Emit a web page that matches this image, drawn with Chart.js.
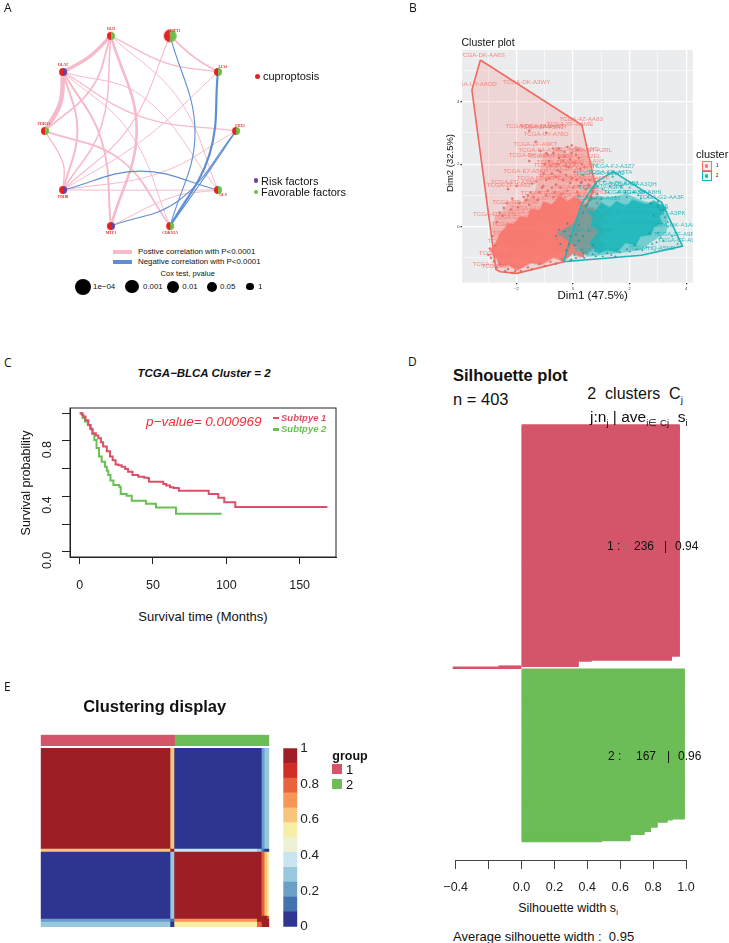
<!DOCTYPE html>
<html>
<head>
<meta charset="utf-8">
<title>Cuproptosis clusters</title>
<script src="https://cdn.jsdelivr.net/npm/chart.js@4"></script>
<style>
  html, body { margin: 0; padding: 0; background: #fff; }
  #page { position: relative; width: 729px; height: 943px; overflow: hidden; font-family: "Liberation Sans", Arial, sans-serif; color: #111; }
  #page canvas { position: absolute; }
  .t { position: absolute; white-space: pre; line-height: 1; }
  .s { position: absolute; }
  sub { font-size: 62%; line-height: 0; }
</style>
</head>
<body>
<div id="page"></div>
<script>
// ---------- panel A: correlation network ----------
const geneNames = ["DLD", "LIPT1", "LIAS", "FDX1", "GLS", "CDKN2A", "MTF1", "PDHB", "PDHA1", "DLAT"];
const geneX = [-0.31, 0.31, 0.81, 1, 0.81, 0.31, -0.31, -0.81, -1, -0.81];
const geneY = [0.995, 0.995, 0.617, 0, -0.617, -0.995, -0.995, -0.617, 0, 0.617];
const geneFactor = ["fav", "fav", "fav", "fav", "fav", "fav", "risk", "risk", "fav", "risk"];
const coxP = [1, 0.0001, 1, 1, 1, 1, 1, 1, 1, 1];

const posFrom = [0, 0, 0, 0, 0, 0, 1, 1, 9, 9, 9, 9, 9, 9, 8, 8, 7, 7, 7, 6];
const posTo = [9, 8, 7, 6, 2, 4, 2, 7, 8, 7, 6, 3, 4, 5, 7, 5, 2, 4, 3, 4];
const posMidX = [-0.53, -0.51, -0.41, -0.04, 0.27, 0.41, 0.55, -0.11, -0.84, -0.66, -0.41, 0, 0.02, -0.11, -0.81, -0.21, 0.03, 0, 0.2, 0.34];
const posMidY = [0.78, 0.45, 0.05, 0.01, 0.71, 0.32, 0.78, 0.05, 0.29, 0.01, -0.09, 0.15, 0.36, -0.02, -0.34, -0.3, -0.09, -0.62, -0.44, -0.69];
const posStrength = [3.5, 1.8, 1.5, 2.6, 1.3, 1, 1.8, 1.1, 4.5, 2, 2, 1.3, 1, 1, 1.3, 1.8, 1, 1, 1, 1];

const negFrom = [1, 2, 3, 6, 7];
const negTo = [5, 5, 5, 3, 4];
const negMidX = [0.57, 0.72, 0.66, 0.41, 0];
const negMidY = [-0.02, -0.25, -0.5, -0.72, -0.42];
const negStrength = [1.1, 2.2, 1.2, 1.1, 1.1];

// ---------- panel B: cluster plot ----------
const hull1X = [-3.28, -3.58, -2.73, -2.58, -1.99, -0.34, 0.78, 0.31, -3.28];
const hull1Y = [5.33, 4.37, -1.37, -1.44, -1.49, -1.12, 1.33, 3.25, 5.33];
const hull2X = [-0.34, 2.42, 3.87, 3.13, 1.42, 0.84, 0.31, -0.34];
const hull2Y = [-1.12, -0.91, -0.62, 0.78, 1.76, 1.44, 0.75, -1.12];

// where the samples overlap into a solid mass
const denseSalmonX = [-2.58, -2.4, -2.3, -2.1, -1.87, -1.6, -1.5, -1.17, -1.05, -0.75, -0.46, -0.2, 0.05, 0.36, 0.45, 0.72, 0.85, 1.19, 0.95, 0.95, 1.1, 0.9, 1.07, 0.7, 0.25, 0, -0.34, -0.7, -1.1, -1.5, -1.99, -2.3, -2.58, -2.7, -2.93, -2.7, -2.58];
const denseSalmonY = [-0.21, -0.05, 0.1, 0.08, 0.32, 0.28, 0.55, 0.52, 0.8, 0.7, 0.98, 0.8, 0.95, 0.78, 0.6, 0.6, 0.4, 0.43, 0.2, 0, -0.2, -0.35, -0.64, -0.7, -0.96, -0.85, -1.09, -0.98, -1.2, -1.15, -1.39, -1.2, -1.28, -1, -0.75, -0.5, -0.21];
const midSalmonX = [-2.75, -2.45, -2.2, -1.8, -1.35, -1.2, -1.05, -0.8, -0.6, -0.2, 0.1, 0.5, 0.7, 0.85, 0.95, 1.25, 1.05, 0.6, -1, -2.7, -2.9, -2.75];
const midSalmonY = [0.3, 0.55, 0.85, 0.8, 1.15, 1.6, 2.35, 2.3, 2.55, 2.35, 2.6, 2.4, 1.9, 1.3, 0.9, 0.45, -0.1, -0.5, -1, -0.6, -0.1, 0.3];
const denseTealX = [0.48, 0.75, 1, 1.3, 1.54, 1.9, 2.1, 2.6, 2.85, 3.31, 3.05, 3.1, 2.85, 2.75, 2.37, 2.2, 1.85, 1.55, 1.19, 0.9, 0.6, 0.8, 0.95, 0.65, 0.72, 0.48];
const denseTealY = [0.53, 0.45, 0.75, 0.6, 0.8, 0.65, 0.85, 0.7, 0.82, 0.59, 0.35, 0.1, 0, -0.25, -0.3, -0.6, -0.5, -0.8, -0.72, -0.85, -0.53, -0.3, -0.11, 0.05, 0.32, 0.53];
const midTealX = [0.3, 0.7, 1.42, 1.9, 2.4, 3.07, 3.35, 3.3, 3, 2.36, 1.6, 0.48, 0.2, -0.58, 0, 0.3];
const midTealY = [0.64, 0.95, 0.96, 1.05, 0.85, 0.69, 0.3, -0.2, -0.35, -0.75, -0.85, -0.96, -0.7, -0.21, 0.1, 0.64];

const salmonX = [-1.55, -0.95, -1.32, -1.55, -1.15, -0.9, -0.7, -0.5, -0.3, -0.1, 0.1, 0.3, -0.8, -0.55, -0.25, 0.05, 0.35, 0.6, -2.3, -2, -1.45, -1.3, -1.6, -1.1, -0.85, -0.6, -0.35, -0.1, 0.2, 0.45, 0.7, -1.9, -1.55, -1.25, -0.95, -0.7, -0.4, -2.7, -2.5, -2.2, -2.85, -2.75, -2.9, -2.6, -2.3, -2.05, -1.6, -1.2, -0.8, -0.4, 0.1, 0.5, 0.9, 1.15, 1.2, 1.3, 1, 0.85, 0.5, 0.2,
  -2.6, -2.45, -2.35, -2.15, -1.95, -1.75, -1.65, -1.5, -1.4, -1.2, -1.05, -0.9, -0.75, -0.65, -0.45, -0.2, 0, 0.15, 0.3, 0.55, 0.65, 0.75,
  -1.05, -0.95, -0.75, -0.6, -0.45, -0.25, -0.05, 0.12, 0.28, 0.42, 0.55, -1, -0.85, -0.55, -0.35, -0.15, 0.05, 0.25, 0.4, -0.95, -0.7, -0.5, -0.3, -0.05, 0.2,
  -2.95, -3, -2.8, -2.7, -2.4, -2.15, -1.85, -1.45, -1, -0.6, -0.1, 0.35, 0.8, 1.1, 1.25, -0.2, -0.05, 0.15];
const salmonY = [3.07, 3, 2.72, 2.1, 2.42, 2.3, 2.5, 2.2, 2.4, 2.15, 2.3, 2, 1.95, 1.8, 1.95, 1.75, 1.65, 1.5, 1.2, 1.3, 1.38, 1.45, 1, 1.25, 1.55, 1.35, 1.5, 1.4, 1.3, 1.2, 1.1, 0.75, 0.7, 0.85, 1, 0.95, 1.05, 0.15, 0.35, 0.55, -0.3, -0.6, -1, -1.2, -1.35, -1.42, -1.3, -1.2, -1.12, -1.05, -1, -0.85, -0.7, -0.35, 0.1, 0.35, 0.62, 0.75, 0.95, 1,
  0.45, 0.6, 0.75, 0.9, 0.62, 0.95, 0.85, 1.1, 0.95, 1.1, 1.3, 1.15, 1.25, 1.1, 1.25, 1.15, 1.25, 1.1, 1.42, 1.35, 0.95, 0.9,
  1.7, 1.5, 1.7, 1.6, 1.75, 1.65, 1.55, 1.5, 1.4, 1.5, 1.3, 2, 2.1, 2, 2.1, 1.9, 2.05, 1.85, 1.9, 2.35, 2.35, 2.5, 2.25, 2.35, 2.2,
  -0.7, -0.9, -1.1, -1.3, -1.42, -1.48, -1.42, -1.36, -1.25, -1.18, -1.08, -0.95, -0.78, -0.55, -0.1, 2.55, 2.6, 2.45];
const tealX = [1.4, 1.1, 0.85, 1.7, 2, 2.3, 2.65, 3, 1.25, 1.5, 1.9, 0.6, 0.45, 3.1, 3.25, 3.35, 3.5, 3.7, 3.2, 2.8, 2.45, 2, 1.5, 1.2, 0.8, 0.4, -0.05, 0.3, 0.7, 0.2, -0.3, -0.6, -0.2, 2.85, 2.7, 3, 3.15, 2.2, 1,
  0.35, 0.5, 0.65, 0.85, 1.05, 1.3, 1.6, 1.85, 2.15, 2.4, 2.75, 3, 3.2, 3.35, 3.1, 2.95, 2.6, 2.25, 1.9, 1.65, 1.35, 1.05, 0.7, 0.35, 0.05, -0.25, -0.45, -0.5, -0.15, 0.1, 0.35, 0.55, 0.2, -0.1, 0.05];
const tealY = [1.6, 1.45, 1.3, 1.3, 1.25, 1, 0.95, 0.8, 1.1, 0.95, 0.95, 0.85, 0.65, 0.55, 0.3, 0, -0.3, -0.55, -0.45, -0.55, -0.75, -0.8, -0.95, -0.85, -0.95, -1, -1.05, -0.75, -0.6, -0.45, -0.15, -0.3, 0.1, 0.35, -0.2, -0.2, 0.1, -0.6, 0.9,
  0.45, 0.7, 0.9, 1.05, 1.2, 1.3, 1.1, 1.1, 1.1, 0.9, 0.75, 0.65, 0.55, 0.15, -0.35, -0.5, -0.65, -0.72, -0.72, -0.82, -0.9, -0.95, -0.88, -0.85, -0.9, -0.75, -0.55, -0.1, -0.55, -0.25, -0.3, -0.15, 0.05, -0.3, -0.6];

const label1Text = ["TCGA-DK-AA6S", "TCGA-UY-A8OD", "TCGA-DK-A3WY", "TCGA-4Z-AA83", "TCGA-DK-A1AB", "TCGA-GU-A42R", "TCGA-XF-AAME", "TCGA-ZF-A9R1", "TCGA-UY-A78O", "TCGA-2F-A9KT", "TCGA-K4-A54R", "TCGA-DK-A3IS", "TCGA-BT-A2RL", "TCGA-DK-A1AG", "TCGA-E7-A5KF", "TCGA-FD-A3B5", "TCGA-ZF-AA53", "TCGA-FD-A5BY", "TCGA-GD-A76B", "TCGA-FD-A3SL", "TCGA-GC-A6I3", "TCGA-BT-A20N", "TCGA-DK-AA6Q", "TCGA-BL-A13J", "TCGA-G2-A2EC", "TCGA-CF-A47T", "TCGA-XF-AAN5", "TCGA-E7-A677", "TCGA-FD-A6TF", "TCGA-ZF-AA4V", "TCGA-BT-A2LD", "TCGA-GU-A766",
  "TCGA-BT-A20O", "TCGA-GC-A3BM", "TCGA-E5-A2PC", "TCGA-FD-A3SN", "TCGA-XF-A9T2", "TCGA-BT-A2LA", "TCGA-DK-A1A3", "TCGA-GU-A763", "TCGA-XF-A8HD", "TCGA-CU-A0YN", "TCGA-G2-A2EF", "TCGA-2F-A9KO", "TCGA-UY-A9PA", "TCGA-G2-A2EL"];
const label1X = [-3.22, -3.52, -1.64, 0.28, -1.58, -1.05, -0.11, -1.11, -0.96, -1.34, -1.16, 0.13, 0.6, -1.46, -1.69, -2.11, -2.28, -1.05, -2.05, -2.75, -2.11, -2.05, -2.2, -2.58, -2.75, -2.46, 0.3, -0.2, 0.5, -0.5, 0.1, -1.4,
  -0.6, 0.05, -1.2, -0.4, 0.2, -1, -0.2, 0.4, -1.5, -0.8, -2, -2.2, -0.8, 0.2];
const label1Y = [5.49, 4.54, 4.62, 3.43, 3.22, 3.22, 3.29, 3.17, 2.97, 2.65, 2.45, 2.47, 2.45, 2.27, 1.76, 1.43, 1.32, 1.07, 0.79, 0.39, 0.09, -0.21, -0.48, -0.85, -1.19, -1.26, 2.1, 1.85, 1.55, 2.05, 1.25, 0.6,
  1.95, 1.95, 1.55, 1.6, 1.5, 0.9, 1, 1.1, 0.45, 0.3, 0.3, -0.95, 2.25, 2.25];
const label2Text = ["TCGA-FJ-A3Z7", "TCGA-FD-A6TA", "TCGA-GC-A3WC", "TCGA-ZF-AA58", "TCGA-GV-A3QH", "TCGA-XF-A8HI", "TCGA-G2-AA3F", "TCGA-BT-A3PK", "TCGA-DK-A1AF", "TCGA-ZF-A9RE", "TCGA-CF-A9FF", "TCGA-HQ-A5ND", "TCGA-GV-A40E", "TCGA-XF-A9SW", "TCGA-FD-A43X", "TCGA-BT-A42E", "TCGA-ZF-A9RN",
  "TCGA-UY-A9PE", "TCGA-FD-A5BU", "TCGA-GC-A3I6"];
const label2X = [1.42, 1.31, 0.95, 1.54, 2.13, 2.36, 3.13, 3.19, 3.54, 3.66, 3.78, 2.78, 0.84, 1.6, 0.9, 2.4, 0.6, 1, 1.9, 2.6];
const label2Y = [1.94, 1.73, 1.71, 1.39, 1.35, 1.09, 0.94, 0.43, 0.05, -0.25, -0.45, -0.69, -0.75, 0.45, 0.9, 0.15, -0.1, 1.25, 1.1, 0.65];

// ---------- panel C: survival ----------
const subtype1Time = [0, 1.5, 2.5, 4, 5.9, 7.5, 8.9, 11, 12.7, 14.5, 16, 18.5, 20.7, 22.5, 24.5, 26.5, 28.6, 31, 33, 36, 40, 44, 46.8, 47.3, 56, 57, 59, 61.6, 64, 67, 67.7, 87.7, 88, 94, 94.5, 98.4, 98.6, 106, 106.1, 168.9];
const subtype1Surv = [1, 0.99, 0.976, 0.95, 0.916, 0.885, 0.855, 0.84, 0.82, 0.79, 0.76, 0.725, 0.687, 0.66, 0.63, 0.625, 0.614, 0.597, 0.578, 0.554, 0.542, 0.535, 0.53, 0.506, 0.506, 0.489, 0.478, 0.465, 0.46, 0.458, 0.441, 0.441, 0.417, 0.417, 0.39, 0.39, 0.357, 0.357, 0.323, 0.323];
const subtype2Time = [0, 2, 3.6, 5.5, 7, 8.5, 10, 11.5, 13.2, 15, 17.3, 18.5, 19.5, 21, 23, 27, 28, 32, 35.5, 45, 45.2, 51.8, 52, 65.5, 65.7, 96.8];
const subtype2Surv = [1, 0.965, 0.94, 0.915, 0.89, 0.85, 0.807, 0.75, 0.687, 0.65, 0.614, 0.585, 0.554, 0.515, 0.482, 0.47, 0.417, 0.405, 0.369, 0.364, 0.347, 0.347, 0.32, 0.32, 0.275, 0.275];

// ---------- panel D: silhouette, [rows, width] read top to bottom ----------
const silhouette1Rows = [224, 4, 1, 5, 1, 1];
const silhouette1Width = [0.96, 0.913, 0.425, 0.345, -0.138, -0.416];
const silhouette2Rows = [145, 1, 2, 5, 4, 3, 6, 1];
const silhouette2Width = [0.99, 0.917, 0.886, 0.825, 0.785, 0.746, 0.66, 0.487];
const silhouetteTicks = [-0.4, -0.2, 0, 0.2, 0.4, 0.6, 0.8, 1];

// ---------- panel E: consensus heatmap, bands of samples ----------
const groupCounts = [236, 167];
const heatColCounts = [228, 7, 146, 8, 5, 5, 4];
const heatRowCounts = [101, 3, 64, 3, 3, 5];
const heatValues = [
  [1, 0.62, 0, 0.08, 0.2, 0.3, 0.3],
  [0.62, 1, 0.35, 0.3, 0.1, 0, 0],
  [0, 0.33, 1, 0.92, 0.78, 0.62, 0.58],
  [0.08, 0.3, 0.92, 1, 1, 0.92, 0.8],
  [0.18, 0.1, 0.72, 0.92, 1, 1, 0.92],
  [0.33, 0, 0.58, 0.8, 0.92, 1, 1]
];
const heatColors = ["#2E3690", "#4472AD", "#6D9EC8", "#99C8DE", "#C9E3EF", "#EDF2D4", "#F8EDA5", "#F9C57D", "#F69758", "#E8633D", "#CF2E27", "#9E1F27"];

const RED = "#E32222", GREEN = "#6BBF44", PURPLE = "#6C3FA0";
const PINK_LINE = "#F6BACA", BLUE_LINE = "#5F8FD2";
const SALMON = "#F8766D", TEAL = "#1CB5B8";
const GROUP1 = "#D4546A", GROUP2 = "#6CBC57";

const page = document.getElementById("page");
Chart.defaults.animation = false;
Chart.defaults.responsive = false;
Chart.defaults.font.family = '"Liberation Sans", Arial, sans-serif';
Chart.defaults.plugins.legend.display = false;
Chart.defaults.plugins.tooltip.enabled = false;

// html text, x/y is the anchor and align says which side of the box sits on x
function txt(x, y, html, size, opts) {
  opts = opts || {};
  const d = document.createElement("div");
  d.className = "t";
  d.innerHTML = html;
  d.style.left = x + "px";
  d.style.top = y + "px";
  d.style.fontSize = size + "px";
  if (opts.bold) d.style.fontWeight = "bold";
  if (opts.italic) d.style.fontStyle = "italic";
  if (opts.color) d.style.color = opts.color;
  if (opts.family) d.style.fontFamily = opts.family;
  const tx = opts.align === "center" ? "-50%" : "0";
  d.style.transform = "translate(" + tx + ",-50%)" + (opts.rotate ? " rotate(-90deg)" : "");
  page.appendChild(d);
}

function box(x, y, w, h, color, round) {
  const d = document.createElement("div");
  d.className = "s";
  d.style.cssText = "left:" + x + "px;top:" + y + "px;width:" + w + "px;height:" + h + "px;background:" + color + ";" + (round ? "border-radius:50%;" : "");
  page.appendChild(d);
  return d;
}

function circle(cx, cy, d, color) {
  box(cx - d / 2, cy - d / 2, d, d, color, true);
}

function makeCanvas(rect) {
  const c = document.createElement("canvas");
  c.width = rect.w;
  c.height = rect.h;
  c.style.left = rect.x + "px";
  c.style.top = rect.y + "px";
  page.appendChild(c);
  return c;
}

// scale margins for half a tick label would shift the plot area, drop them
function noMargins(s) {
  s.paddingLeft = s.paddingRight = s.paddingTop = s.paddingBottom = 0;
}

// pins the plot area of a chart to a given box inside its canvas
function pinned(rect, area) {
  return {
    layout: { autoPadding: false, padding: { top: area.top - rect.y, right: rect.x + rect.w - area.right, bottom: 0, left: 0 } },
    fitX: s => { s.height = rect.y + rect.h - area.bottom; noMargins(s); },
    fitY: s => { s.width = area.left - rect.x; noMargins(s); }
  };
}

const framePlugin = {
  id: "frame",
  afterDraw(chart) {
    const a = chart.chartArea, ctx = chart.ctx;
    ctx.save();
    ctx.strokeStyle = "#222";
    ctx.lineWidth = 1;
    ctx.strokeRect(a.left, a.top, a.right - a.left, a.bottom - a.top);
    ctx.restore();
  }
};

function expand(counts, values) {
  const out = [];
  counts.forEach((n, i) => { for (let k = 0; k < n; k++) out.push(values[i]); });
  return out;
}

function pairs(xs, ys) {
  return xs.map((x, i) => ({ x: x, y: ys[i] }));
}

// ---------- A ----------
function halfNode(size, right) {
  const c = document.createElement("canvas");
  c.width = c.height = size + 2;
  const g = c.getContext("2d"), m = size / 2 + 1;
  g.fillStyle = RED;
  g.beginPath(); g.arc(m, m, size / 2, Math.PI / 2, Math.PI * 1.5); g.fill();
  g.fillStyle = right;
  g.beginPath(); g.arc(m, m, size / 2, -Math.PI / 2, Math.PI / 2); g.fill();
  return c;
}

function edgeDataset(from, to, mx, my, w, color) {
  return {
    data: [{ x: geneX[from], y: geneY[from] }, { x: mx, y: my }, { x: geneX[to], y: geneY[to] }],
    showLine: true, tension: 0.4, borderColor: color, borderWidth: w, pointRadius: 0, fill: false
  };
}

const nodeDx = [0, 5, 5, 4, 5, 0, 0, 0, -1, 0];
const nodeDy = [-7, -5, -5, -5, 5, 7, 7, 7, -7, -7];
const nodeLabels = {
  id: "nodeLabels",
  afterDatasetsDraw(chart) {
    const ctx = chart.ctx, sx = chart.scales.x, sy = chart.scales.y;
    ctx.save();
    ctx.fillStyle = "#E03030";
    ctx.font = 'bold 3.8px "Liberation Serif", serif';
    ctx.textAlign = "center";
    ctx.textBaseline = "middle";
    geneNames.forEach((n, i) => {
      ctx.fillText(n, sx.getPixelForValue(geneX[i]) + nodeDx[i], sy.getPixelForValue(geneY[i]) + nodeDy[i]);
    });
    ctx.restore();
  }
};

const rectA = { x: 0, y: 0, w: 360, h: 245 };
const datasetsA = [{
  data: pairs(geneX, geneY),
  pointStyle: geneFactor.map((f, i) => halfNode(coxP[i] < 0.001 ? 13 : 8, f === "risk" ? PURPLE : GREEN)),
  showLine: false
}];
negFrom.forEach((f, i) => datasetsA.push(edgeDataset(f, negTo[i], negMidX[i], negMidY[i], negStrength[i], BLUE_LINE)));
posFrom.forEach((f, i) => datasetsA.push(edgeDataset(f, posTo[i], posMidX[i], posMidY[i], posStrength[i], PINK_LINE)));
new Chart(makeCanvas(rectA), {
  type: "scatter",
  data: { datasets: datasetsA },
  options: {
    layout: { padding: 0, autoPadding: false },
    scales: {
      x: { display: false, min: -1.47, max: 2.296 },
      y: { display: false, min: -1.193, max: 1.37 }
    }
  },
  plugins: [nodeLabels]
});

txt(4, 8, "A", 12, { family: '"Open Sans", sans-serif' });
circle(257.7, 76, 5, RED);
txt(263, 75.5, "cuproptosis", 11);
circle(256, 180.7, 4.5, PURPLE);
txt(261, 180.5, "Risk factors", 11);
circle(256, 192, 4.5, GREEN);
txt(261, 192, "Favorable factors", 11);
box(113, 250, 19, 4, PINK_LINE);
txt(138, 251.7, "Postive correlation with P&lt;0.0001", 7.9);
box(113, 260, 19, 4, BLUE_LINE);
txt(138, 261.7, "Negative correlation with P&lt;0.0001", 7.9);
txt(187.7, 274, "Cox test, pvalue", 7.6, { align: "center" });
[[83.3, 16, 93, "1e−04"], [132, 13.5, 143, "0.001"], [173, 12, 182.3, "0.01"], [212, 10, 220, "0.05"], [250, 7.5, 258, "1"]].forEach(c => {
  circle(c[0], 286.7, c[1], "#000");
  txt(c[2], 287, c[3], 7.9);
});

// ---------- B ----------
function clusterLabels(chart, texts, xs, ys, color) {
  const ctx = chart.ctx, sx = chart.scales.x, sy = chart.scales.y;
  ctx.fillStyle = color;
  texts.forEach((t, i) => {
    ctx.fillText(t, sx.getPixelForValue(xs[i]), sy.getPixelForValue(ys[i]));
  });
}
const bLabels = {
  id: "bLabels",
  afterDatasetsDraw(chart) {
    const ctx = chart.ctx, a = chart.chartArea;
    ctx.save();
    ctx.beginPath();
    ctx.rect(a.left, a.top, a.right - a.left, a.bottom - a.top);
    ctx.clip();
    ctx.font = '6.2px "Liberation Sans", sans-serif';
    ctx.textAlign = "center";
    ctx.textBaseline = "middle";
    clusterLabels(chart, label1Text, label1X, label1Y, "rgba(248,118,109,0.85)");
    clusterLabels(chart, label2Text, label2X, label2Y, "rgba(28,181,184,0.9)");
    ctx.restore();
  }
};
const panelB = {
  id: "panelB",
  beforeDraw(chart) {
    const a = chart.chartArea;
    chart.ctx.fillStyle = "#EBECEE";
    chart.ctx.fillRect(a.left, a.top, a.right - a.left, a.bottom - a.top);
  }
};

function polyDataset(xs, ys, fillColor, lineColor, lineW) {
  return {
    data: pairs(xs, ys), showLine: true, tension: 0, fill: "shape", backgroundColor: fillColor,
    borderColor: lineColor, borderWidth: lineW, pointRadius: 0
  };
}
const rectB = { x: 440, y: 40, w: 262, h: 258 };
const pinB = pinned(rectB, { left: 462, right: 692.7, top: 50, bottom: 282.7 });
const gridB = v => (Math.round(v) % 2 === 0 ? 1.3 : 0.6);
new Chart(makeCanvas(rectB), {
  type: "scatter",
  data: {
    datasets: [
      { data: pairs(tealX, tealY), pointRadius: 1.2, backgroundColor: TEAL, pointStyle: "triangle", showLine: false },
      polyDataset(hull2X, hull2Y, "rgba(0,191,196,0.1)", TEAL, 1.6),
      polyDataset(denseTealX, denseTealY, "rgba(28,181,184,0.85)", "rgba(28,181,184,0.5)", 2),
      polyDataset(midTealX, midTealY, "rgba(28,181,184,0.5)", "rgba(28,181,184,0)", 0),
      { data: pairs(salmonX, salmonY), pointRadius: 1.1, backgroundColor: SALMON, showLine: false },
      polyDataset(denseSalmonX, denseSalmonY, "rgba(248,118,109,0.92)", "rgba(248,118,109,0.5)", 2),
      polyDataset(midSalmonX, midSalmonY, "rgba(248,118,109,0.35)", "rgba(248,118,109,0)", 0),
      polyDataset(hull1X, hull1Y, "rgba(248,118,109,0.2)", "#F0695F", 1.6)
    ]
  },
  options: {
    layout: pinB.layout,
    scales: {
      x: {
        min: -3.93, max: 4.23,
        ticks: { stepSize: 1, includeBounds: false, font: { size: 4 }, color: "#444", padding: 2, maxRotation: 0, autoSkip: false,
          callback: v => (v % 2 === 0 ? String(v).replace("-", "−") : "") },
        grid: { color: "#fff", lineWidth: c => gridB(c.tick ? c.tick.value : 0), tickLength: 1.5, tickColor: c => (c.tick && c.tick.value % 2 === 0 ? "#333" : "rgba(0,0,0,0)") },
        border: { display: false },
        afterFit: pinB.fitX
      },
      y: {
        min: -1.79, max: 5.65,
        ticks: { stepSize: 1, includeBounds: false, font: { size: 4 }, color: "#444", padding: 1, autoSkip: false,
          callback: v => (v % 2 === 0 ? String(v).replace("-", "−") : "") },
        grid: { color: "#fff", lineWidth: c => gridB(c.tick ? c.tick.value : 0), tickLength: 1.5, tickColor: c => (c.tick && c.tick.value % 2 === 0 ? "#333" : "rgba(0,0,0,0)") },
        border: { display: false },
        afterFit: pinB.fitY
      }
    }
  },
  plugins: [panelB, bLabels]
});

txt(409, 8, "B", 12, { family: '"Open Sans", sans-serif' });
txt(461.5, 41.5, "Cluster plot", 10.5);
txt(592.7, 296, "Dim1 (47.5%)", 11.5, { align: "center" });
txt(450, 163, "Dim2 (32.5%)", 9.5, { align: "center", rotate: true });
txt(696, 154, "cluster", 11);
[[161, SALMON, "1"], [171, TEAL, "2"]].forEach((l, i) => {
  const b = box(701.7, l[0], 10, 10, "#F0F0F0");
  b.style.boxSizing = "border-box";
  b.style.border = "1px solid " + l[1];
  circle(706.7, l[0] + 5, 3.4, l[1]);
  txt(716, l[0] + 5, l[2], 4.5);
});

// ---------- C ----------
const rectC = { x: 30, y: 400, w: 320, h: 195 };
const pinC = pinned(rectC, { left: 70, right: 336, top: 408, bottom: 557 });
new Chart(makeCanvas(rectC), {
  type: "scatter",
  data: {
    datasets: [
      { data: pairs(subtype1Time, subtype1Surv), showLine: true, stepped: true, borderColor: "#DB5069", borderWidth: 2, pointRadius: 0 },
      { data: pairs(subtype2Time, subtype2Surv), showLine: true, stepped: true, borderColor: "#69C052", borderWidth: 2, pointRadius: 0 }
    ]
  },
  options: {
    layout: pinC.layout,
    scales: {
      x: {
        min: -6.6, max: 174.8,
        ticks: { stepSize: 50, includeBounds: false, font: { size: 12.5 }, color: "#222", padding: 14, maxRotation: 0 },
        grid: { drawOnChartArea: false, tickLength: 7, tickColor: "#222" },
        border: { color: "#222" },
        afterFit: pinC.fitX
      },
      y: {
        min: -0.038, max: 1.038,
        ticks: { stepSize: 0.2, includeBounds: false, font: { size: 12.5 }, color: "#222", padding: 14, minRotation: 90, maxRotation: 90, autoSkip: false,
          callback: v => { const r = Math.round(v * 10) / 10; return (r === 0 || r === 0.4 || r === 0.8) ? r.toFixed(1) : ""; } },
        grid: { drawOnChartArea: false, tickLength: 8, tickColor: "#222" },
        border: { color: "#222" },
        afterFit: pinC.fitY
      }
    }
  },
  plugins: [framePlugin]
});

txt(4, 363, "C", 12, { family: '"Open Sans", sans-serif' });
txt(204, 374, "TCGA−BLCA Cluster = 2", 11.5, { align: "center", bold: true, italic: true });
txt(146, 422, "p−value= 0.000969", 13.5, { italic: true, color: "#F0303A" });
box(273, 416.5, 6, 2.5, "#DB5069");
txt(281, 417.6, "Subtpye 1", 9.5, { bold: true, italic: true, color: "#DB5069" });
box(273, 428, 6, 2.5, "#69C052");
txt(281, 429, "Subtpye 2", 9.5, { bold: true, italic: true, color: "#69C052" });
txt(26, 483, "Survival probability", 12.5, { align: "center", rotate: true });
txt(203, 616, "Survival time (Months)", 13, { align: "center" });

// ---------- D ----------
const silhouetteWidths = expand(silhouette1Rows, silhouette1Width)
  .concat([null])
  .concat(expand(silhouette2Rows, silhouette2Width))
  .concat(new Array(18).fill(null));
const silhouetteColors = silhouetteWidths.map((v, i) => (i < 236 ? GROUP1 : GROUP2));
const rectD = { x: 440, y: 415, w: 289, h: 485 };
const pinD = pinned(rectD, { left: 455.7, right: 686, top: 425, bottom: 860 });
new Chart(makeCanvas(rectD), {
  type: "bar",
  data: {
    labels: silhouetteWidths.map((v, i) => i),
    datasets: [{ data: silhouetteWidths, backgroundColor: silhouetteColors, barThickness: 2, clip: false }]
  },
  options: {
    indexAxis: "y",
    layout: pinD.layout,
    scales: {
      x: {
        type: "linear", min: -0.4, max: 1,
        afterBuildTicks: s => { s.ticks = silhouetteTicks.map(v => ({ value: v })); },
        ticks: { font: { size: 12.5 }, color: "#222", padding: 11, maxRotation: 0, autoSkip: false,
          callback: v => { const r = Math.round(v * 10) / 10; return r === -0.2 ? "" : (r < 0 ? "−" : "") + Math.abs(r).toFixed(1); } },
        grid: { drawOnChartArea: false, tickLength: 9, tickColor: "#444" },
        border: { color: "#444" },
        afterFit: pinD.fitX
      },
      y: { ticks: { display: false }, grid: { display: false }, border: { display: false }, afterFit: pinD.fitY }
    }
  }
});

txt(408, 362, "D", 12, { family: '"Open Sans", sans-serif' });
txt(453, 375, "Silhouette plot", 16.5, { bold: true });
txt(453, 399, "n = 403", 16.5);
txt(587.3, 394, "2  clusters  C<sub>j</sub>", 16);
txt(590, 417, "j:n<sub>j</sub> | ave<sub>i∈ Cj</sub>  s<sub>i</sub>", 15.5);
txt(607, 546, "1 :", 12);
txt(634, 546, "236", 12);
txt(664, 546, "|", 12);
txt(675, 546, "0.94", 12);
txt(608, 756, "2 :", 12);
txt(636, 756, "167", 12);
txt(667, 756, "|", 12);
txt(678, 756, "0.96", 12);
txt(568, 908, "Silhouette width s<sub>i</sub>", 12.5, { align: "center" });
txt(453, 936, "Average silhouette width :  0.95", 13);

// ---------- E ----------
const rowBand = expand(heatRowCounts, heatRowCounts.map((n, i) => i));
const binColor = v => heatColors[Math.min(heatColors.length - 1, Math.floor(v * heatColors.length))];
const rectE = { x: 36, y: 744, w: 240, h: 190 };
const pinE = pinned(rectE, { left: 40.7, right: 269.3, top: 748, bottom: 927 });
new Chart(makeCanvas(rectE), {
  type: "bar",
  data: {
    labels: rowBand.map((b, i) => i),
    datasets: heatColCounts.map((n, c) => ({
      data: rowBand.map(() => n),
      backgroundColor: rowBand.map(b => binColor(heatValues[b][c])),
      barPercentage: 1, categoryPercentage: 1, borderWidth: 0, inflateAmount: 0.2
    }))
  },
  options: {
    indexAxis: "y",
    layout: pinE.layout,
    scales: {
      x: { display: true, stacked: true, min: 0, max: 403, ticks: { display: false }, grid: { display: false }, border: { display: false }, afterFit: pinE.fitX },
      y: { display: true, stacked: true, ticks: { display: false }, grid: { display: false }, border: { display: false }, afterFit: pinE.fitY }
    }
  }
});

// group strip above the heatmap
const rectG = { x: 40, y: 734, w: 230, h: 13 };
const pinG = pinned(rectG, { left: 40.7, right: 269.3, top: 734.7, bottom: 746 });
new Chart(makeCanvas(rectG), {
  type: "bar",
  data: {
    labels: ["group"],
    datasets: groupCounts.map((n, i) => ({ data: [n], backgroundColor: i === 0 ? GROUP1 : GROUP2, barPercentage: 1, categoryPercentage: 1 }))
  },
  options: {
    indexAxis: "y",
    layout: pinG.layout,
    scales: {
      x: { stacked: true, min: 0, max: 403, ticks: { display: false }, grid: { display: false }, border: { display: false }, afterFit: pinG.fitX },
      y: { stacked: true, ticks: { display: false }, grid: { display: false }, border: { display: false }, afterFit: pinG.fitY }
    }
  }
});

// colour key
const rectK = { x: 283, y: 738, w: 48, h: 199 };
new Chart(makeCanvas(rectK), {
  type: "bar",
  data: {
    labels: ["key"],
    datasets: heatColors.map(c => ({ data: [1 / heatColors.length], backgroundColor: c, barPercentage: 1, categoryPercentage: 1 }))
  },
  options: {
    layout: { autoPadding: false, padding: { top: 10.3, left: 0.3, right: 0, bottom: 0 } },
    scales: {
      x: { stacked: true, ticks: { display: false }, grid: { display: false }, border: { display: false }, afterFit: s => { s.height = 10.3; noMargins(s); } },
      y: {
        stacked: true, min: 0, max: 1, position: "right",
        ticks: { stepSize: 0.2, font: { size: 13.5 }, color: "#222", padding: 3, callback: v => String(Math.round(v * 10) / 10) },
        grid: { display: false, drawTicks: false }, border: { display: false },
        afterFit: s => { s.width = 33.7; noMargins(s); }
      }
    }
  }
});

txt(4, 687, "E", 12, { family: '"Open Sans", sans-serif' });
txt(154.7, 705.7, "Clustering display", 16.5, { align: "center", bold: true });
txt(332.3, 755.7, "group", 12.5, { bold: true });
box(332.3, 764, 10, 10.3, GROUP1);
txt(346, 769, "1", 13);
box(332.3, 779, 10, 10.3, GROUP2);
txt(346, 784, "2", 13);
</script>
</body>
</html>
